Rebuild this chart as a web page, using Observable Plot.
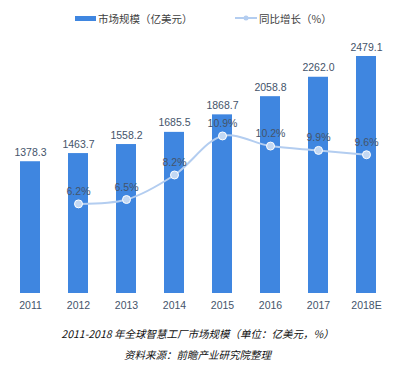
<!DOCTYPE html>
<html><head><meta charset="utf-8">
<script src="https://cdn.jsdelivr.net/npm/d3@7"></script>
<script src="https://cdn.jsdelivr.net/npm/@observablehq/plot@0.6"></script>
<style>
body{margin:0;background:#fff;width:405px;height:375px;position:relative;overflow:hidden;font-family:"Liberation Sans","Noto Sans CJK SC",sans-serif;}
#legend{position:absolute;left:0;top:0;width:405px;height:36px;font-size:10.5px;color:#404040;}
#legend .item{position:absolute;top:11px;display:flex;align-items:center;height:14px;font-family:"Noto Sans CJK SC",sans-serif;}
#chart{position:absolute;left:0;top:36px;}
.cap{position:absolute;left:0;width:395px;text-align:center;font-style:italic;font-size:10.5px;color:#111;font-family:"Noto Sans CJK SC",sans-serif;}
</style></head>
<body>
<div id="legend">
  <div class="item" style="left:75px"><span style="display:inline-block;width:21px;height:5px;background:#3f86e0;margin-right:2px"></span>市场规模（亿美元）</div>
  <div class="item" style="left:235px"><svg width="23" height="8" style="margin-right:1px"><line x1="0" x2="22" y1="4" y2="4" stroke="#b3cdf0" stroke-width="2"/><circle cx="11" cy="4" r="2.5" fill="#b3cdf0"/></svg>同比增长（%）</div>
</div>
<div id="chart"></div>
<div class="cap" style="top:326px">2011-2018 年全球智慧工厂市场规模（单位：亿美元，%）</div>
<div class="cap" style="top:347px">资料来源：前瞻产业研究院整理</div>
<script>
const years = ["2011","2012","2013","2014","2015","2016","2017","2018E"];
const market = [1378.3,1463.7,1558.2,1685.5,1868.7,2058.8,2262.0,2479.1];
const growthYears = ["2012","2013","2014","2015","2016","2017","2018E"];
const growth = [6.2,6.5,8.2,10.9,10.2,9.9,9.6];
// 1% growth drawn as this many market units on the shared y scale
const growthUnit = 151.2;

const bars = years.map((y,i)=>({year:y, value:market[i]}));
const line = growthYears.map((y,i)=>({year:y, g:growth[i]}));

const chart = Plot.plot({
  width:405, height:280,
  marginLeft:9, marginRight:18, marginTop:20, marginBottom:23,
  style:{fontFamily:'"Liberation Sans","Noto Sans CJK SC",sans-serif', fontSize:"10.5px", color:"#44546a", background:"transparent"},
  x:{domain:years, paddingInner:0.59, paddingOuter:0.2, label:null, tickSize:0, tickPadding:8},
  y:{domain:[0, d3.max(market)], axis:null},
  marks:[
    Plot.barY(bars,{x:"year", y:"value", fill:"#3f86e0"}),
    Plot.text(bars,{x:"year", y:"value", text:d=>d.value.toFixed(1), lineAnchor:"bottom", dy:-6, fill:"#44546a", fontSize:10.5}),
    Plot.line(line,{x:"year", y:d=>d.g*growthUnit, stroke:"#b3cdf0", strokeWidth:2, curve:"catmull-rom"}),
    Plot.dot(line,{x:"year", y:d=>d.g*growthUnit, r:4, fill:"#c3d8f3", stroke:"#ffffff", strokeWidth:1}),
    Plot.text(line,{x:"year", y:d=>d.g*growthUnit, text:d=>d.g.toFixed(1)+"%", lineAnchor:"bottom", dy:-9, fill:"#44546a", fontSize:10.5})
  ]
});
document.getElementById("chart").appendChild(chart);
</script>
</body></html>
